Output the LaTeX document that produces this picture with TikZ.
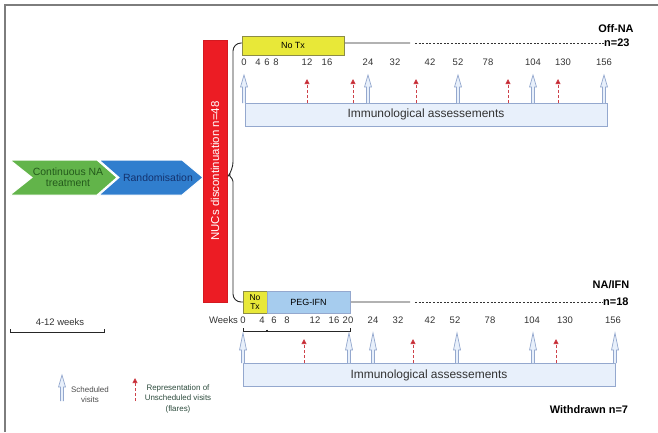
\documentclass[tikz,border=0pt]{standalone}
\usepackage{fontspec}
\setmainfont{Liberation Sans}
\usetikzlibrary{arrows.meta,positioning}
\definecolor{framegrey}{RGB}{125,125,125}
\definecolor{notx}{RGB}{232,232,56}
\definecolor{notxline}{RGB}{140,140,70}
\definecolor{pegifn}{RGB}{166,204,238}
\definecolor{assess}{RGB}{232,240,251}
\definecolor{assessline}{RGB}{148,168,206}
\definecolor{flare}{RGB}{196,32,42}
\definecolor{barred}{RGB}{236,28,36}
\definecolor{nagreen}{RGB}{98,180,74}
\definecolor{nagreentext}{RGB}{36,90,28}
\definecolor{randblue}{RGB}{48,126,206}
\definecolor{randbluetext}{RGB}{20,50,110}
\definecolor{legendtext}{RGB}{46,76,62}

\begin{document}
\begin{tikzpicture}[x=1bp, y=-1bp,
  tick/.style={font=\fontsize{9.5}{10}\selectfont, inner sep=0pt, text=black!80},
  assessbox/.style={draw=assessline, fill=assess, minimum width=#1, minimum height=23bp,
    inner sep=0pt, outer sep=0pt, font=\fontsize{12}{14}\selectfont, text=black!80},
  phasebox/.style={draw=notxline, line width=0.5bp, inner sep=0pt, outer sep=0pt,
    font=\fontsize{9}{10}\selectfont},
  armlabel/.style={font=\bfseries\fontsize{11}{13}\selectfont, inner sep=0pt},
  timeline/.style={line width=0.9bp, black!85},
  dashline/.style={line width=0.7bp, black!80, dash pattern=on 2bp off 1.6bp},
  pics/schedvisit/.style 2 args={code={
    \draw[assessline, fill=assess, line width=0.7bp]
      (-1.5,0) -- (-1.5,-#1+#2) -- (-3.5,-#1+#2) -- (0,-#1)
      -- (3.5,-#1+#2) -- (1.5,-#1+#2) -- (1.5,0);
  }},
  pics/flare/.style={code={
    \draw[flare!85, densely dashed, line width=0.8bp,
      -{Triangle[width=5bp,length=5bp,fill=flare]}] (0,0) -- (0,-#1);
  }}]
  \useasboundingbox (0,0) rectangle (658,432);
  % frame
  \draw[framegrey, line width=1.5bp] (5,432) -- (5,5) -- (658,5);

  % run-in phases
  \draw[draw=white, line width=1bp, fill=nagreen]
    (10,160) -- (97,160) -- (117,177.5) -- (97,195) -- (10,195) -- (32,177.5) -- cycle;
  \draw[draw=white, line width=1bp, fill=randblue]
    (99,160) -- (182,160) -- (203,177.5) -- (182,195) -- (99,195) -- (119,177.5) -- cycle;
  \node[align=center, text=nagreentext, font=\fontsize{10.5}{11.5}\selectfont] (contna) at (68,177.5)
    {Continuous NA\\treatment};
  \node[text=randbluetext, font=\fontsize{10.5}{12}\selectfont] (random) at (158,178) {Randomisation};

  \node[rotate=90, fill=barred, draw=barred!90!black, line width=0.5bp, text=white,
    minimum width=262bp, minimum height=24bp, inner sep=0pt,
    font=\fontsize{11.5}{13}\selectfont] (nucs) at (215,171) {NUCs discontinuation n=48};

  % brace splitting into both arms
  \coordinate (offsolidend) at (410,43);
  \coordinate (offdashstart) at (415,43);
  \coordinate (nasolidend) at (410,302);
  \coordinate (nadashstart) at (415,302);
  \draw[timeline, rounded corners=8bp] (offsolidend) -- (233,43) -- (233,170)
    [rounded corners=1.5bp] -- (229,175) -- (233,180)
    [rounded corners=8bp] -- (233,302) -- (nasolidend);

  % Off-NA arm
  \node[armlabel] (offna) at (616,29) {Off-NA};
  \node[armlabel, anchor=west] (offn) at (604,43) {n=23};
  \draw[dashline] (offdashstart) -- (offn.west);
  \node[phasebox, fill=notx, minimum width=102bp, minimum height=19bp] (offnotx) at (293,45.5) {No Tx};
  \foreach \w/\x in {0/244,4/258,6/267,8/276,12/307,16/327,24/368,32/395,42/430,52/458,78/488,104/533,130/563,156/604}
    \node[tick] (offw\w) at (\x,62) {\w};
  \node[assessbox=362bp] (offassess) at (426,114.5) {Immunological assessements};
  \foreach \x in {244,368,458,533,604}
    \pic at (\x,103) {schedvisit={28}{12}};
  \foreach \x in {307,353,416,508,558}
    \pic at (\x,103) {flare=24};

  % NA/IFN arm
  \node[armlabel] (naifn) at (611,285) {NA/IFN};
  \node[armlabel, anchor=west] (nan) at (603,302) {n=18};
  \draw[dashline] (nadashstart) -- (nan.west);
  \node[phasebox, fill=notx, minimum width=24bp, minimum height=22bp, align=center,
    font=\fontsize{8.5}{8.5}\selectfont] (nanotx) at (255,302) {No\\Tx};
  \node[phasebox, fill=pegifn, draw=assessline, minimum width=83bp, minimum height=22bp,
    right=0bp of nanotx] (peg) {PEG-IFN};
  \foreach \w/\x in {0/243,4/262,6/274,8/287,12/315,16/334,20/348,24/373,32/398,42/430,52/455,78/490,104/532,130/565,156/613}
    \node[tick] (naw\w) at (\x,320) {\w};
  \node[tick, left=2bp of naw0] (weeks) {Weeks};
  \draw[timeline, line width=0.8bp] (243,328) -- (243,331) -- (350,331) -- (350,328);
  \draw[timeline, line width=1.4bp] (267,329.5) -- (267,331);
  \node[assessbox=372bp] (naassess) at (429,375) {Immunological assessements};
  \foreach \x in {243,349,373,457,533,615}
    \pic at (\x,363) {schedvisit={30}{17}};
  \foreach \x in {304,413,556}
    \pic at (\x,363) {flare=24};

  % legend
  \draw[timeline, line width=0.8bp] (10,329) -- (10,332) -- (104,332) -- (104,329);
  \node[tick, font=\fontsize{9.5}{11}\selectfont] (window) at (60,322) {4-12 weeks};
  \pic at (62,401) {schedvisit={26}{12}};
  \node[align=center, text=black!70, font=\fontsize{8}{10}\selectfont] (schedlbl) at (90,395)
    {Scheduled\\visits};
  \pic at (135,401) {flare=23};
  \node[align=center, text=legendtext, font=\fontsize{8}{10.5}\selectfont] (flarelbl) at (178,398.5)
    {Representation of\\Unscheduled  visits\\(flares)};
  \node[armlabel] (withdrawn) at (589,410) {Withdrawn n=7};
\end{tikzpicture}
\end{document}
